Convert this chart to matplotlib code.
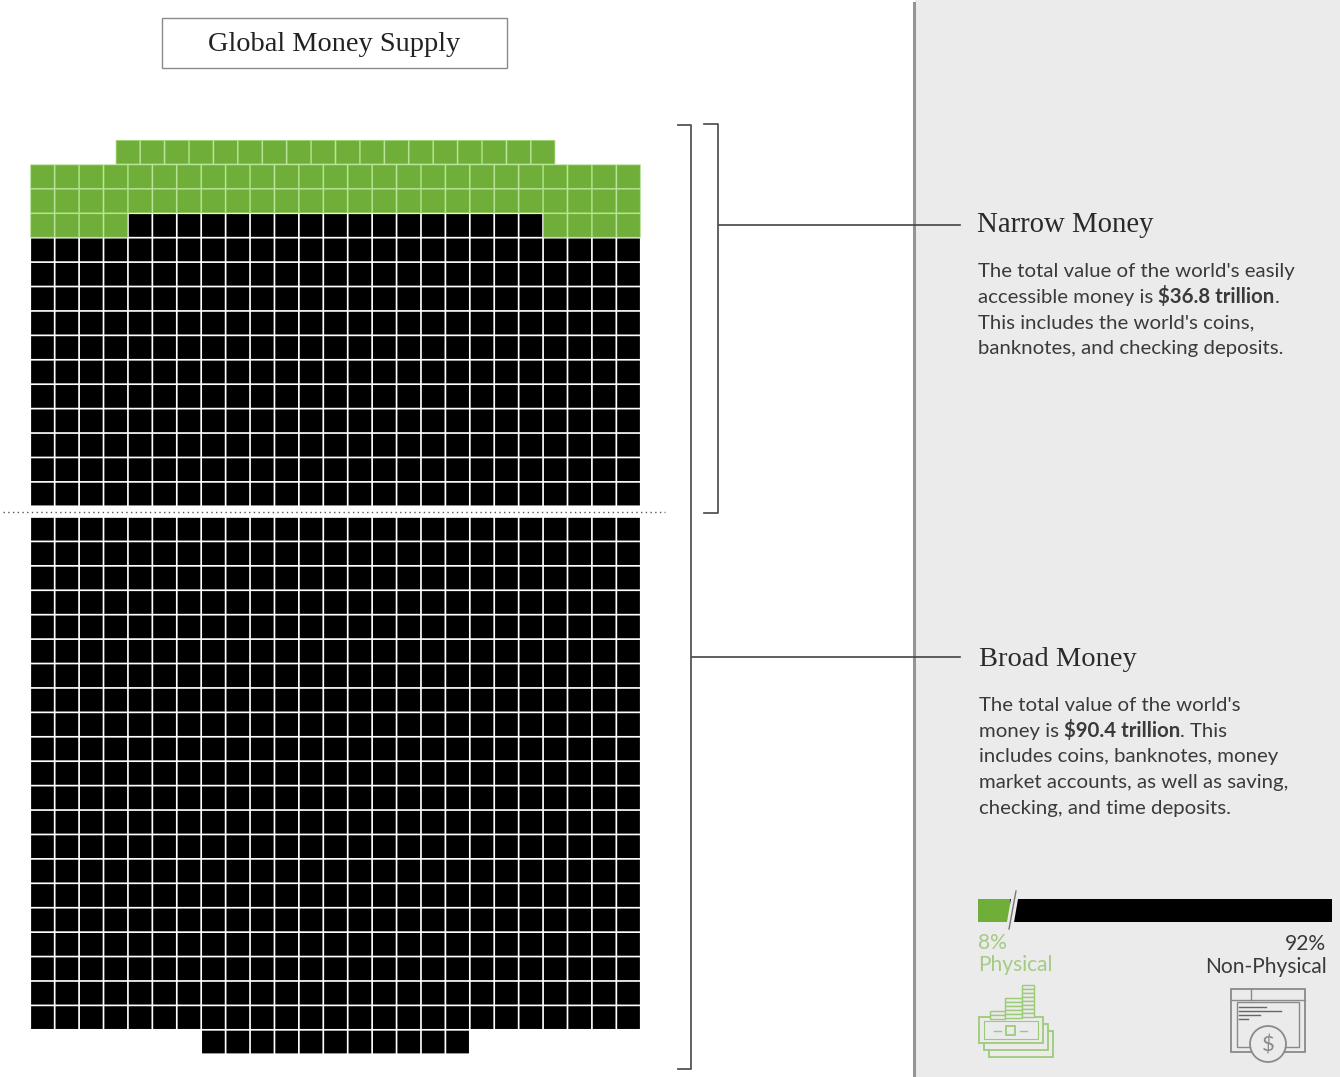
import matplotlib
matplotlib.use('Agg')
import matplotlib.pyplot as plt
from matplotlib.patches import Rectangle, Circle

# rows of the grid, top to bottom: (green cells on each side, black cells in the middle)
narrow_rows = [(9, 0), (12.5, 0), (12.5, 0), (4, 17)] + [(0, 25)] * 11
broad_rows = [(0, 25)] * 21 + [(0, 11)]

shares = [8, 92]
share_names = ['Physical', 'Non-Physical']

title = 'Global Money Supply'
narrow_head = 'Narrow Money'
broad_head = 'Broad Money'
narrow_text = [[("The total value of the world's easily", False)],
               [("accessible money is ", False), ("$36.8 trillion", True), (".", False)],
               [("This includes the world's coins,", False)],
               [("banknotes, and checking deposits.", False)]]
broad_text = [[("The total value of the world's", False)],
              [("money is ", False), ("$90.4 trillion", True), (". This", False)],
              [("includes coins, banknotes, money", False)],
              [("market accounts, as well as saving,", False)],
              [("checking, and time deposits.", False)]]

GREEN = '#70ae3a'
GREEN_LINE = '#a6dc7c'
PANEL = '#ebebeb'
INK = '#3a3a3a'
SANS = 'Lato'
SERIF = 'Liberation Serif'

fig = plt.figure(figsize=(13.4, 10.77), dpi=100)
ax = fig.add_axes([0, 0, 1, 1])
ax.set_xlim(0, 1340)
ax.set_ylim(1077, 0)
ax.axis('off')

# grey panel on the right
ax.add_patch(Rectangle((915, 0), 425, 1077, fc=PANEL, ec='none', zorder=0))
ax.plot([914, 914], [3, 1077], color='#949494', lw=2.2, zorder=1)

# title box
ax.add_patch(Rectangle((161.5, 17.5), 345.5, 50, fc='white', ec='#8a8a8a', lw=1))
ax.text(334, 51, title, family=SERIF, fontsize=20.4, color='#222222', ha='center', va='baseline')


def draw_row(y, side, mid):
    pitch = 24.42
    gap = 1.7
    centre = 335.5
    total = 2 * side + mid if mid else 2 * side
    left = centre - total * pitch / 2
    n = int(round(total))
    for i in range(n):
        x = left + (i + 0.5) * pitch
        # snap off, otherwise the thin lines between cells come out uneven
        if mid and side <= i < side + mid:
            ax.bar(x, pitch - gap, width=pitch - gap, bottom=y + gap / 2, color='black', zorder=3, snap=False)
        else:
            # light line between the green cells, not white
            ax.bar(x, pitch, width=pitch, bottom=y, color=GREEN_LINE, zorder=2, snap=False)
            ax.bar(x, pitch - gap, width=pitch - gap, bottom=y + gap / 2, color=GREEN, zorder=3, snap=False)
    return y + pitch


y = 140
for side, mid in narrow_rows:
    y = draw_row(y, side, mid)
y = 517
for side, mid in broad_rows:
    y = draw_row(y, side, mid)

# dotted divider
ax.plot([3, 665], [512, 512], color='#555555', lw=1, ls=(0, (1, 2.4)), zorder=3)

# brackets and leaders
ax.plot([678, 691, 691, 678], [125, 125, 1069, 1069], color='#555555', lw=1.3)
ax.plot([704, 718, 718, 704], [124, 124, 513, 513], color='#555555', lw=1.3)
ax.plot([719, 960], [225, 225], color='#444444', lw=1.2)
ax.plot([692, 960], [657, 657], color='#444444', lw=1.2)

ax.text(977, 232, narrow_head, family=SERIF, fontsize=20.7, color='#2a2a2a', va='baseline')
ax.text(979, 666, broad_head, family=SERIF, fontsize=20.5, color='#2a2a2a', va='baseline')


def draw_lines(lines, x0, y0, step):
    rend = fig.canvas.get_renderer()
    for k, parts in enumerate(lines):
        x = x0
        for txt, bold in parts:
            t = ax.text(x, y0 + k * step, txt, family=SANS, fontsize=14.7, color=INK, va='baseline',
                        fontweight='bold' if bold else 'normal')
            x += t.get_window_extent(rend).width


draw_lines(narrow_text, 978, 277, 25.7)
draw_lines(broad_text, 979, 711, 25.7)

# share bar
bar_left = 978
scale = 354 / 100
shift = 4
green_w = shares[0] * scale + shift
ax.barh(910.5, green_w, height=23, left=bar_left, color=GREEN, zorder=2)
ax.barh(910.5, shares[1] * scale - shift, height=23, left=bar_left + green_w, color='black', zorder=2)
ax.plot([1010, 1015], [925, 896], color=PANEL, lw=5, zorder=3)
ax.plot([1009, 1016], [929, 891], color='#777777', lw=1, zorder=4)

ax.text(978, 949, '%d%%' % shares[0], family=SANS, fontsize=15.1, color='#a5ca84', va='baseline')
ax.text(978, 971, share_names[0], family=SANS, fontsize=15.1, color='#a5ca84', va='baseline')
ax.text(1326, 950, '%d%%' % shares[1], family=SANS, fontsize=15.1, color=INK, ha='right', va='baseline')
ax.text(1327, 973, share_names[1], family=SANS, fontsize=15.1, color=INK, ha='right', va='baseline')

# money icon
ICON_G = '#9ccb78'
for dx, dy in [(10, 14), (5, 7), (0, 0)]:
    ax.add_patch(Rectangle((979 + dx, 1017 + dy), 64, 26, fc=PANEL, ec=ICON_G, lw=1.3, zorder=3))
ax.add_patch(Rectangle((984, 1021), 54, 18, fc=PANEL, ec=ICON_G, lw=0.8, zorder=3))
ax.add_patch(Rectangle((1006, 1026), 9, 9, fc=PANEL, ec=ICON_G, lw=1.3, zorder=4))
ax.plot([994, 1001], [1030.5, 1030.5], color=ICON_G, lw=1, zorder=4)
ax.plot([1020, 1027], [1030.5, 1030.5], color=ICON_G, lw=1, zorder=4)
for x0, x1, tops in [(990, 1005, [1011, 1015]), (1005, 1022, [998, 1002, 1006, 1010, 1014]),
                     (1022, 1034, [985, 989, 993, 997, 1001, 1005, 1009, 1013])]:
    for yy in tops:
        ax.add_patch(Rectangle((x0, yy), x1 - x0, 4, fc=PANEL, ec=ICON_G, lw=1, zorder=3))

# browser icon
ICON_K = '#8a8a8a'
ax.add_patch(Rectangle((1231, 989), 74, 63, fc=PANEL, ec=ICON_K, lw=1.3, zorder=3))
ax.add_patch(Rectangle((1237, 1002), 62, 45, fc=PANEL, ec=ICON_K, lw=1, zorder=3))
ax.plot([1231, 1305], [1000, 1000], color=ICON_K, lw=1, zorder=3)
ax.plot([1251, 1251], [989, 1000], color=ICON_K, lw=1, zorder=3)
for yy, x1 in [(1007, 1266), (1011, 1281), (1015, 1260), (1019, 1248)]:
    ax.plot([1239, x1], [yy, yy], color='#666666', lw=1, zorder=4)
ax.add_patch(Circle((1268, 1044), 18, fc=PANEL, ec=ICON_K, lw=1.3, zorder=5))
ax.text(1268, 1045, '$', family=SANS, fontsize=16, color=ICON_K, ha='center', va='center', zorder=6)

fig.savefig('out.png', dpi=100)
